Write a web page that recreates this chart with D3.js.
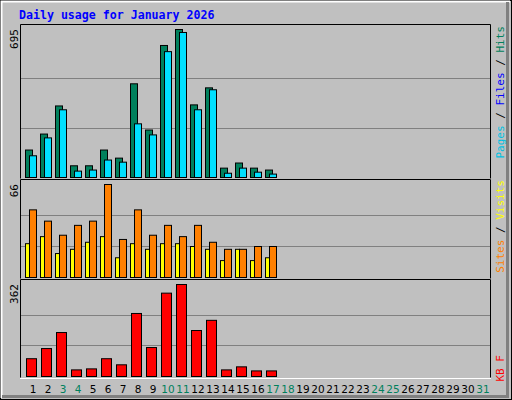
<!DOCTYPE html>
<html>
<head>
<meta charset="utf-8">
<script src="https://cdn.jsdelivr.net/npm/d3@7"></script>
<style>body{margin:0;background:#fff}</style>
</head>
<body>
<svg id="chart" width="512" height="400"></svg>
<script>
const days = d3.range(1, 32);
const weekendDays = [3, 4, 10, 11, 17, 18, 24, 25, 31];
// values for days 1..17 (rest of the month has no data)
const hits = [129, 204, 336, 55, 55, 129, 91, 440, 223, 620, 695, 341, 421, 44, 68, 44, 35];
const files = [102, 186, 318, 30, 35, 82, 72, 252, 200, 591, 681, 318, 412, 20, 44, 25, 16];
const visits = [24, 29, 17, 20, 25, 29, 14, 24, 20, 24, 24, 22, 20, 12, 20, 12, 14];
const sites = [48, 40, 30, 37, 40, 66, 27, 48, 30, 37, 29, 37, 25, 20, 20, 22, 22];
const kbytes = [70, 110, 173, 26, 30, 70, 46, 248, 114, 328, 362, 181, 221, 26, 38, 22, 22];

const svg = d3.select("#chart");
const mono = "DejaVu Sans Mono";

// frame
svg.append("rect").attr("x", 0).attr("y", 0).attr("width", 512).attr("height", 400).attr("fill", "#c0c0c0");
svg.append("rect").attr("x", 0.5).attr("y", 0.5).attr("width", 511).attr("height", 399).attr("fill", "none").attr("stroke", "#000");
svg.append("path").attr("d", "M1.5,398V1.5H510").attr("stroke", "#fff").attr("stroke-width", 2).attr("fill", "none");
svg.append("path").attr("d", "M2,396.5H507.5V2").attr("stroke", "#808080").attr("stroke-width", 3).attr("fill", "none");

svg.append("text").attr("x", 19).attr("y", 19).attr("font-family", mono).attr("font-weight", "bold")
  .attr("font-size", "11.6px").attr("fill", "#0000ff").text("Daily usage for January 2026");

const x = d3.scaleLinear().domain([1, 32]).range([20, 485]);

const panels = [
  { top: 25, bottom: 177, max: 695 },
  { top: 180, bottom: 277, max: 66 },
  { top: 280, bottom: 376, max: 362 }
];
panels.forEach((p) => {
  p.y = d3.scaleLinear().domain([0, p.max]).range([p.bottom, p.top + 4]);
  const g = svg.append("g");
  [1, 2].forEach((k) => {
    const yy = Math.round(p.bottom - (p.bottom - p.top - 4) * k / 3) + 0.5;
    g.append("line").attr("x1", 21).attr("x2", 490).attr("y1", yy).attr("y2", yy).attr("stroke", "#808080");
  });
  g.append("path").attr("d", `M20.5,${p.bottom + 1.5}V${p.top - 0.5}H490.5V${p.bottom + 1.5}`)
    .attr("stroke", "#000").attr("fill", "none");
  g.append("path").attr("d", `M20,${p.bottom + 2.5}H491`).attr("stroke", "#fff").attr("fill", "none");
  g.append("text").attr("transform", `translate(18,${p.top + 4}) rotate(-90)`).attr("text-anchor", "end")
    .attr("font-family", mono).attr("font-size", "11px").attr("fill", "#000").text(p.max);
});

function bars(data, panel, x0, x1, color) {
  svg.append("g").selectAll("rect").data(data).join("rect")
    .attr("x", (d, i) => x(i + 1) + x0 + 0.5)
    .attr("width", x1 - x0)
    .attr("y", (d) => panel.y(d) + 0.5)
    .attr("height", (d) => panel.bottom - panel.y(d))
    .attr("fill", color).attr("stroke", "#000");
}
bars(hits, panels[0], 5, 12, "#00805c");
bars(files, panels[0], 9, 16, "#00e0ff");
bars(visits, panels[1], 5, 9, "#ffff00");
bars(sites, panels[1], 9, 16, "#ff8000");
bars(kbytes, panels[2], 6, 16, "#ff0000");

// day labels
svg.append("g").selectAll("text").data(days).join("text")
  .attr("x", (d) => x(d) + 13).attr("y", 393).attr("text-anchor", "middle")
  .attr("font-family", "DejaVu Sans").attr("font-size", "10.5px")
  .attr("fill", (d) => weekendDays.includes(d) ? "#00805c" : "#000").text((d) => d);

// right side legends
function legend(parts, top) {
  const t = svg.append("text").attr("transform", `translate(504,${top}) rotate(-90)`).attr("text-anchor", "end")
    .attr("font-family", mono).attr("font-size", "11px");
  parts.forEach(([s, c]) => t.append("tspan").attr("fill", c).text(s));
}
legend([["Pages", "#00c0e0"], [" / ", "#000"], ["Files", "#0000ff"], [" / ", "#000"], ["Hits", "#00805c"]], 26);
legend([["Sites", "#ff8000"], [" / ", "#000"], ["Visits", "#ffff00"]], 180);
legend([["KB F", "#ff0000"]], 377 - 22);
</script>
</body>
</html>
